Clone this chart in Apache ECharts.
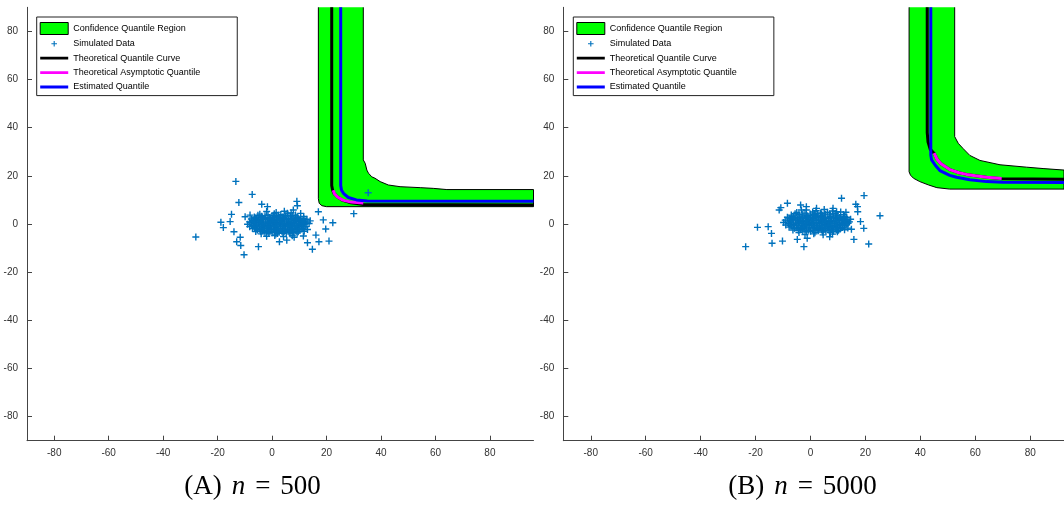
<!DOCTYPE html>
<html><head><meta charset="utf-8">
<script src="https://cdn.jsdelivr.net/npm/echarts@6/dist/echarts.min.js"></script>
<style>html,body{margin:0;padding:0;background:#fff}#c{width:1064px;height:505px}</style>
</head><body><div id="c"></div>
<script>
const xTicks = [-80,-60,-40,-20,0,20,40,60,80];
const yTicks = [-80,-60,-40,-20,0,20,40,60,80];
const legendNames = ['Confidence Quantile Region','Simulated Data','Theoretical Quantile Curve','Theoretical Asymptotic Quantile','Estimated Quantile'];
const captions = ['(A)', '(B)'];
const sampleSizes = ['500', '5000'];

// Panel A (n = 500)
const regionA = [[17.0,90],[17.0,10.5],[17.3,8.6],[18.3,7.6],[20,7.2],[96,7.2],[96,14.3],[64.2,14.3],[59.2,14.8],[54.4,15.1],[47,15.5],[42.7,16.2],[39.7,17.6],[37.8,19.0],[36.6,19.6],[35.4,21.1],[34.8,22.4],[34.2,25.2],[33.5,26.6],[33.5,90]];
const theoA = [[21.9,90],[21.9,16],[22.2,14.2],[22.8,12.6],[24,11.2],[26,9.8],[29,8.8],[33.5,8.1],[96,7.9]];
const asymA = [[22.4,14],[22.9,12.6],[24,11.2],[26,9.9],[29,9.1],[33.5,8.7]];
const estA = [[25.2,90],[25.2,16],[25.5,14],[26.3,12.6],[28,11],[31,10],[35,9.6],[96,9.4]];
const scatterA = [
[-2,5.2],[1.5,4.8],[4.5,5.3],[7,4.6],
[-4.5,4.1],[-1.5,3.8],[0.8,4.3],[3.2,3.9],[5.8,4.2],[8.6,3.7],[10.5,4.4],
[-6.5,2.9],[-3.8,3.2],[-1,2.7],[1.6,3.1],[4.2,2.8],[6.8,3.3],[9.2,2.9],[11.6,3.1],
[-7.6,2.1],[-5,1.8],[-2.4,2.2],[0.2,1.9],[2.8,2.3],[5.4,1.8],[8,2.2],[10.4,1.9],[12.8,2],
[-8.3,0.9],[-5.8,1.2],[-3.2,0.8],[-0.6,1.1],[2,0.9],[4.6,1.2],[7.2,0.8],[9.8,1.1],[12.2,0.9],[14,1.3],
[-9,-0.1],[-6.6,0.2],[-4,-0.2],[-1.4,0.1],[1.2,-0.1],[3.8,0.2],[6.4,-0.2],[9,0.1],[11.4,-0.1],[13.6,0.2],
[-8.2,-1.1],[-5.6,-0.8],[-3,-1.2],[-0.4,-0.9],[2.2,-1.1],[4.8,-0.8],[7.4,-1.2],[10,-0.9],[12.4,-1.1],
[-7.2,-1.9],[-4.6,-2.2],[-2,-1.8],[0.6,-2.1],[3.2,-1.9],[5.8,-2.2],[8.4,-1.8],[11,-2.1],[13,-2.3],
[-6,-3.1],[-3.4,-2.8],[-0.8,-3.2],[1.8,-2.9],[4.4,-3.1],[7,-2.8],[9.6,-3.2],[11.8,-3],
[-4,-4.1],[-1.2,-3.8],[1.4,-4.2],[4,-3.9],[6.6,-4.1],[9.2,-3.8],
[-2,-5.1],[1,-4.8],[4.2,-5.2],[7.4,-4.9],
[-5.2,3.6],[-2.6,3.4],[0,3.5],[2.4,3.6],[5,3.4],[7.6,3.5],
[-6.2,2.5],[-3.6,2.6],[-1,2.4],[1.5,2.6],[4,2.5],[6.6,2.4],[9.2,2.6],[11.6,2.4],
[-7,1.5],[-4.4,1.4],[-1.8,1.6],[0.8,1.5],[3.4,1.4],[6,1.6],[8.6,1.5],[11,1.4],
[-7.6,0.5],[-5,0.6],[-2.4,0.4],[0.2,0.5],[2.8,0.6],[5.4,0.4],[8,0.6],[10.6,0.5],[12.8,0.4],
[-7.4,-0.5],[-4.8,-0.4],[-2.2,-0.6],[0.4,-0.5],[3,-0.4],[5.6,-0.6],[8.2,-0.5],[10.8,-0.4],
[-6.4,-1.5],[-3.8,-1.6],[-1.2,-1.4],[1.4,-1.5],[4,-1.6],[6.6,-1.4],[9.2,-1.5],[11.6,-1.6],
[-5.4,-2.5],[-2.8,-2.6],[-0.2,-2.4],[2.4,-2.5],[5,-2.6],[7.6,-2.4],[10.2,-2.5],
[-2.6,-3.5],[0,-3.6],[2.6,-3.4],[5.2,-3.5],[7.8,-3.6],
[-1.2,0.3],[1.6,0.2],[4.4,-0.3],[7,0.3],[-3.6,-0.3],[0.6,2.8],[3.8,2.9],[6.4,-2.9],[2,-3.9],[5.6,4.5],
[-5.8,2.2],[-3.2,2],[-0.6,2.1],[2,2],[4.6,2.1],[7.2,2],[9.8,2.2],
[-6.8,1],[-4.2,1],[-1.6,0.9],[1,1],[3.6,0.9],[6.2,1],[8.8,0.9],[11.2,1],
[-6,0],[-3.4,0.1],[-0.8,0],[1.8,0.1],[4.4,0],[7,0],[9.6,0.1],[12,0],
[-6.6,-1],[-4,-1.1],[-1.4,-1],[1.2,-1.1],[3.8,-1],[6.4,-1.1],[9,-1],[11.4,-1],
[-5.6,-2],[-3,-2],[-0.4,-2.1],[2.2,-2],[4.8,-2.1],[7.4,-2],[10,-2.1],
[-4.2,-3],[-1.6,-3],[1,-3],[3.6,-3],[6.2,-3],[8.8,-3],
[-13.3,17.7],[-7.3,12.3],[-12.2,8.9],[-28,-5.4],[-18.8,0.7],[-17.9,-1.5],[-14.9,4],[-15.4,1],[-14,-3.2],[-13,-7.4],
[-11.5,-8.9],[-10.3,-12.8],[-5,-9.4],[-11.7,-5.5],[-9.9,3],[-8.1,3.7],[-3.8,8.2],[-1.7,7.2],[9.1,9.4],[9.3,7.6],
[17,5.1],[30,4.3],[22.3,0.5],[18.8,1.7],[19.7,-2.1],[16.1,-4.6],[17.2,-7.4],[20.9,-7.1],[14.8,-10.5],[13,-7.8],
[11.5,-5],[5.4,-6.7],[2.7,-7.4],[8.1,-5.5],[7.8,5.8],[35.3,13]
];

// Panel B (n = 5000)
const regionB = [[35.9,90],[35.9,21.7],[36.4,20.3],[37.5,19],[39.8,17.6],[43,16.2],[46,15.1],[50.7,14.5],[92.3,14.5],[92.3,22.4],[85,23],[78.7,23.6],[69,24.6],[61.7,26.4],[58,28.5],[55.6,31.3],[53.8,33.5],[52.5,36.3],[52.5,90]];
const theoB = [[42.5,90],[42.5,38],[42.8,34],[43.6,31],[45,29.4],[46,27],[47.5,25],[50.7,22.6],[54,21.3],[56.8,20.6],[60,20],[64.1,19.4],[69.6,18.8],[92.3,18.6]];
const asymB = [[45,29.4],[46,27],[47.5,25],[50.7,22.6],[54,21.3],[56.8,20.6],[60,20],[64.1,19.4],[69.6,18.9]];
const estB = [[43.8,90],[43.8,28.7],[44.1,26.6],[45.5,24.3],[47.1,22.2],[50.7,20.2],[53.2,19.4],[58,18.4],[64.1,17.6],[70,17.3],[92.3,17.2]];
const scatterB = [
[-1.5,5.8],[2,5.5],[5,6],[8,5.4],
[-5,4.8],[-2,4.5],[0.8,5],[3.6,4.6],[6.2,4.9],[9,4.4],[11,5],
[-7,3.7],[-4.2,4],[-1.4,3.5],[1.4,3.9],[4.2,3.6],[7,4.1],[9.6,3.7],[12,3.9],
[-8.4,2.8],[-5.6,2.5],[-2.8,2.9],[0,2.6],[2.8,3],[5.6,2.5],[8.4,2.9],[11,2.6],[13.2,2.8],
[-9.2,1.6],[-6.4,1.9],[-3.6,1.5],[-0.8,1.8],[2,1.6],[4.8,1.9],[7.6,1.5],[10.4,1.8],[12.8,1.6],[14.6,2],
[-9.8,0.6],[-7.2,0.9],[-4.4,0.5],[-1.6,0.8],[1.2,0.6],[4,0.9],[6.8,0.5],[9.6,0.8],[12.2,0.6],[14.2,0.9],
[-9,-0.4],[-6.2,-0.1],[-3.4,-0.5],[-0.6,-0.2],[2.2,-0.4],[5,-0.1],[7.8,-0.5],[10.6,-0.2],[13,-0.4],
[-7.8,-1.3],[-5,-1.6],[-2.2,-1.2],[0.6,-1.5],[3.4,-1.3],[6.2,-1.6],[9,-1.2],[11.6,-1.5],[13.6,-1.7],
[-6.4,-2.5],[-3.6,-2.2],[-0.8,-2.6],[2,-2.3],[4.8,-2.5],[7.6,-2.2],[10.2,-2.6],[12.4,-2.4],
[-4.2,-3.5],[-1.4,-3.2],[1.6,-3.6],[4.4,-3.3],[7.2,-3.5],[9.8,-3.2],
[-2,-4.4],[1.2,-4.1],[4.6,-4.5],[8,-4.2],
[-5.6,4.3],[-2.8,4.1],[0,4.2],[2.6,4.3],[5.4,4.1],[8.2,4.2],
[-6.8,3.2],[-4,3.3],[-1.2,3.1],[1.6,3.3],[4.4,3.2],[7.2,3.1],[10,3.3],[12.4,3.1],
[-7.6,2.2],[-4.8,2.1],[-2,2.3],[0.8,2.2],[3.6,2.1],[6.4,2.3],[9.2,2.2],[11.8,2.1],
[-8.2,1.2],[-5.4,1.3],[-2.6,1.1],[0.2,1.2],[3,1.3],[5.8,1.1],[8.6,1.3],[11.4,1.2],[13.6,1.1],
[-8,0.2],[-5.2,0.3],[-2.4,0.1],[0.4,0.2],[3.2,0.3],[6,0.1],[8.8,0.2],[11.6,0.3],
[-7,-0.8],[-4.2,-0.9],[-1.4,-0.7],[1.4,-0.8],[4.2,-0.9],[7,-0.7],[9.8,-0.8],[12.4,-0.9],
[-5.8,-1.8],[-3,-1.9],[-0.2,-1.7],[2.6,-1.8],[5.4,-1.9],[8.2,-1.7],[11,-1.8],
[-2.8,-2.9],[0,-3],[2.8,-2.8],[5.6,-2.9],[8.4,-3],
[-0.4,0.7],[2.4,0.4],[5.2,0.6],[7.4,1],[-3,1.4],[1,3.4],[4,4.3],[6.8,-1.1],[3,-2.4],[9.4,2.6],
[-6.2,2.7],[-3.4,2.6],[-0.6,2.8],[2.2,2.6],[5,2.7],[7.8,2.6],[10.6,2.7],
[-7.4,1.5],[-4.6,1.6],[-1.8,1.4],[1,1.5],[3.8,1.6],[6.6,1.4],[9.4,1.5],[12,1.6],
[-6.8,0.4],[-4,0.5],[-1.2,0.4],[1.6,0.5],[4.4,0.4],[7.2,0.5],[10,0.4],[12.8,0.5],
[-7.4,-0.6],[-4.6,-0.5],[-1.8,-0.6],[1,-0.5],[3.8,-0.6],[6.6,-0.5],[9.4,-0.6],[11.8,-0.5],
[-5.8,-1.6],[-3,-1.5],[-0.2,-1.6],[2.6,-1.5],[5.4,-1.6],[8.2,-1.5],[10.8,-1.6],
[-4.4,-2.6],[-1.6,-2.5],[1.2,-2.6],[4,-2.5],[6.8,-2.6],[9.4,-2.5],
[-23.6,-9.4],[-19.3,-1.4],[-15.4,-1.1],[-14.2,-3.9],[-14,-8],[-10.2,-7.1],[-11.4,5.8],[-10.8,6.8],[-8.4,8.6],[-3.6,7.9],
[-3.3,5.8],[-1.5,7.2],[-2.4,-9.4],[-4.8,-6.4],[11.3,10.7],[19.5,11.8],[16.5,8.2],[17.1,7.2],[17.2,5.1],[25.3,3.4],
[18.2,1],[19.4,-1.8],[15.8,-6.4],[21.2,-8.3],[14.9,-2.2],[13.7,0.3],[8.2,6.5],[9.5,5.1],[12.9,4.9],[7,-5.3],
[-1.2,-5.9],[2.2,6.5]
];

const plusSymbol = 'path://M2.8,0H4.2V2.8H7V4.2H4.2V7H2.8V4.2H0V2.8H2.8Z';
const plusIcon = 'path://M0,0L0,0ZM30,12L30,12ZM14.4,3H15.6V5.4H18V6.6H15.6V9H14.4V6.6H12V5.4H14.4Z';
const lineIcon = 'path://M0,0L0,0ZM30,12L30,12ZM0,4.5H30V7.5H0Z';
const GREEN = '#00ff00', BLUE = '#0000ff', MAGENTA = '#ff00ff', DOT = '#0072BD';

function xAxis(grid, max) {
  return {type:'value', gridIndex:grid, min:-90, max:max,
    axisLine:{show:true, onZero:false, lineStyle:{color:'#444', width:1}},
    axisTick:{show:true, inside:true, length:5, customValues:xTicks, lineStyle:{color:'#444'}},
    axisLabel:{customValues:xTicks, fontSize:10, color:'#333', margin:8, fontFamily:'Liberation Sans'},
    splitLine:{show:false}};
}
function yAxis(grid) {
  return {type:'value', gridIndex:grid, min:-90, max:90,
    axisLine:{show:true, onZero:false, lineStyle:{color:'#444', width:1}},
    axisTick:{show:true, inside:true, length:5, customValues:yTicks, lineStyle:{color:'#444'}},
    axisLabel:{customValues:yTicks, fontSize:10, color:'#333', margin:9, fontFamily:'Liberation Sans'},
    splitLine:{show:false}};
}
function legendFor(left) {
  return {orient:'vertical', left:left, top:17, itemWidth:28, itemHeight:12, itemGap:3.2,
    padding:[5,37,3,3], borderColor:'#222', borderWidth:1, backgroundColor:'#fff',
    selectedMode:false,
    textStyle:{fontSize:9, color:'#000', fontFamily:'Liberation Sans'},
    data:[
      {name:legendNames[0], icon:'rect', itemStyle:{color:GREEN, borderColor:'#000', borderWidth:1}},
      {name:legendNames[1], icon:plusIcon, itemStyle:{color:DOT, borderWidth:0, opacity:1}},
      {name:legendNames[2], icon:lineIcon, itemStyle:{color:'#000', borderWidth:0}},
      {name:legendNames[3], icon:lineIcon, itemStyle:{color:MAGENTA, borderWidth:0}},
      {name:legendNames[4], icon:lineIcon, itemStyle:{color:BLUE, borderWidth:0}}
    ]};
}
function panelSeries(g, region, scatter, theo, asym, est) {
  return [
    {type:'custom', name:legendNames[0], xAxisIndex:g, yAxisIndex:g, data:region, silent:true,
      itemStyle:{color:GREEN},
      renderItem:function(params, api){
        if (params.dataIndex !== 0) return null;
        const pts = region.map(p => api.coord(p));
        return {type:'polygon', shape:{points:pts}, style:{fill:GREEN, stroke:null}};
      }},
    {type:'line', name:'edge'+g, xAxisIndex:g, yAxisIndex:g, data:region, symbol:'none', silent:true,
      lineStyle:{color:'#000', width:1}},
    {type:'scatter', name:legendNames[1], xAxisIndex:g, yAxisIndex:g, data:scatter,
      symbol:plusSymbol, symbolSize:7, itemStyle:{color:DOT, opacity:1}, silent:true},
    {type:'line', name:legendNames[2], xAxisIndex:g, yAxisIndex:g, data:theo, symbol:'none',
      color:'#000', lineStyle:{color:'#000', width:3}, silent:true},
    {type:'line', name:legendNames[3], xAxisIndex:g, yAxisIndex:g, data:asym, symbol:'none',
      color:MAGENTA, lineStyle:{color:MAGENTA, width:3}, silent:true},
    {type:'line', name:legendNames[4], xAxisIndex:g, yAxisIndex:g, data:est, symbol:'none',
      color:BLUE, lineStyle:{color:BLUE, width:3}, silent:true}
  ];
}
function caption(x, i) {
  const base = {fontFamily:'Liberation Serif', fontSize:27, fill:'#000'};
  return {type:'text', x:x, y:487, style:{
    text:'{a|' + captions[i] + '}{i|n}{e|=}{r|' + sampleSizes[i] + '}',
    align:'center', verticalAlign:'middle',
    rich:{a:Object.assign({padding:[0,10,0,0]}, base),
          i:Object.assign({fontStyle:'italic', padding:[0,10,0,0]}, base),
          e:Object.assign({padding:[0,10,0,0]}, base),
          r:base}}};
}

const chart = echarts.init(document.getElementById('c'), null, {renderer:'canvas'});
chart.setOption({
  animation:false,
  backgroundColor:'#fff',
  grid:[{left:27, top:7.3, width:506.5, height:433.4}, {left:563.3, top:7.3, width:500.7, height:433.4}],
  xAxis:[xAxis(0, 96.0), xAxis(1, 92.3)],
  yAxis:[yAxis(0), yAxis(1)],
  legend:[legendFor(36.7), legendFor(573.3)],
  series: panelSeries(0, regionA, scatterA, theoA, asymA, estA).concat(panelSeries(1, regionB, scatterB, theoB, asymB, estB)),
  graphic:[caption(252.5, 0), caption(802.5, 1)]
});
</script></body></html>
